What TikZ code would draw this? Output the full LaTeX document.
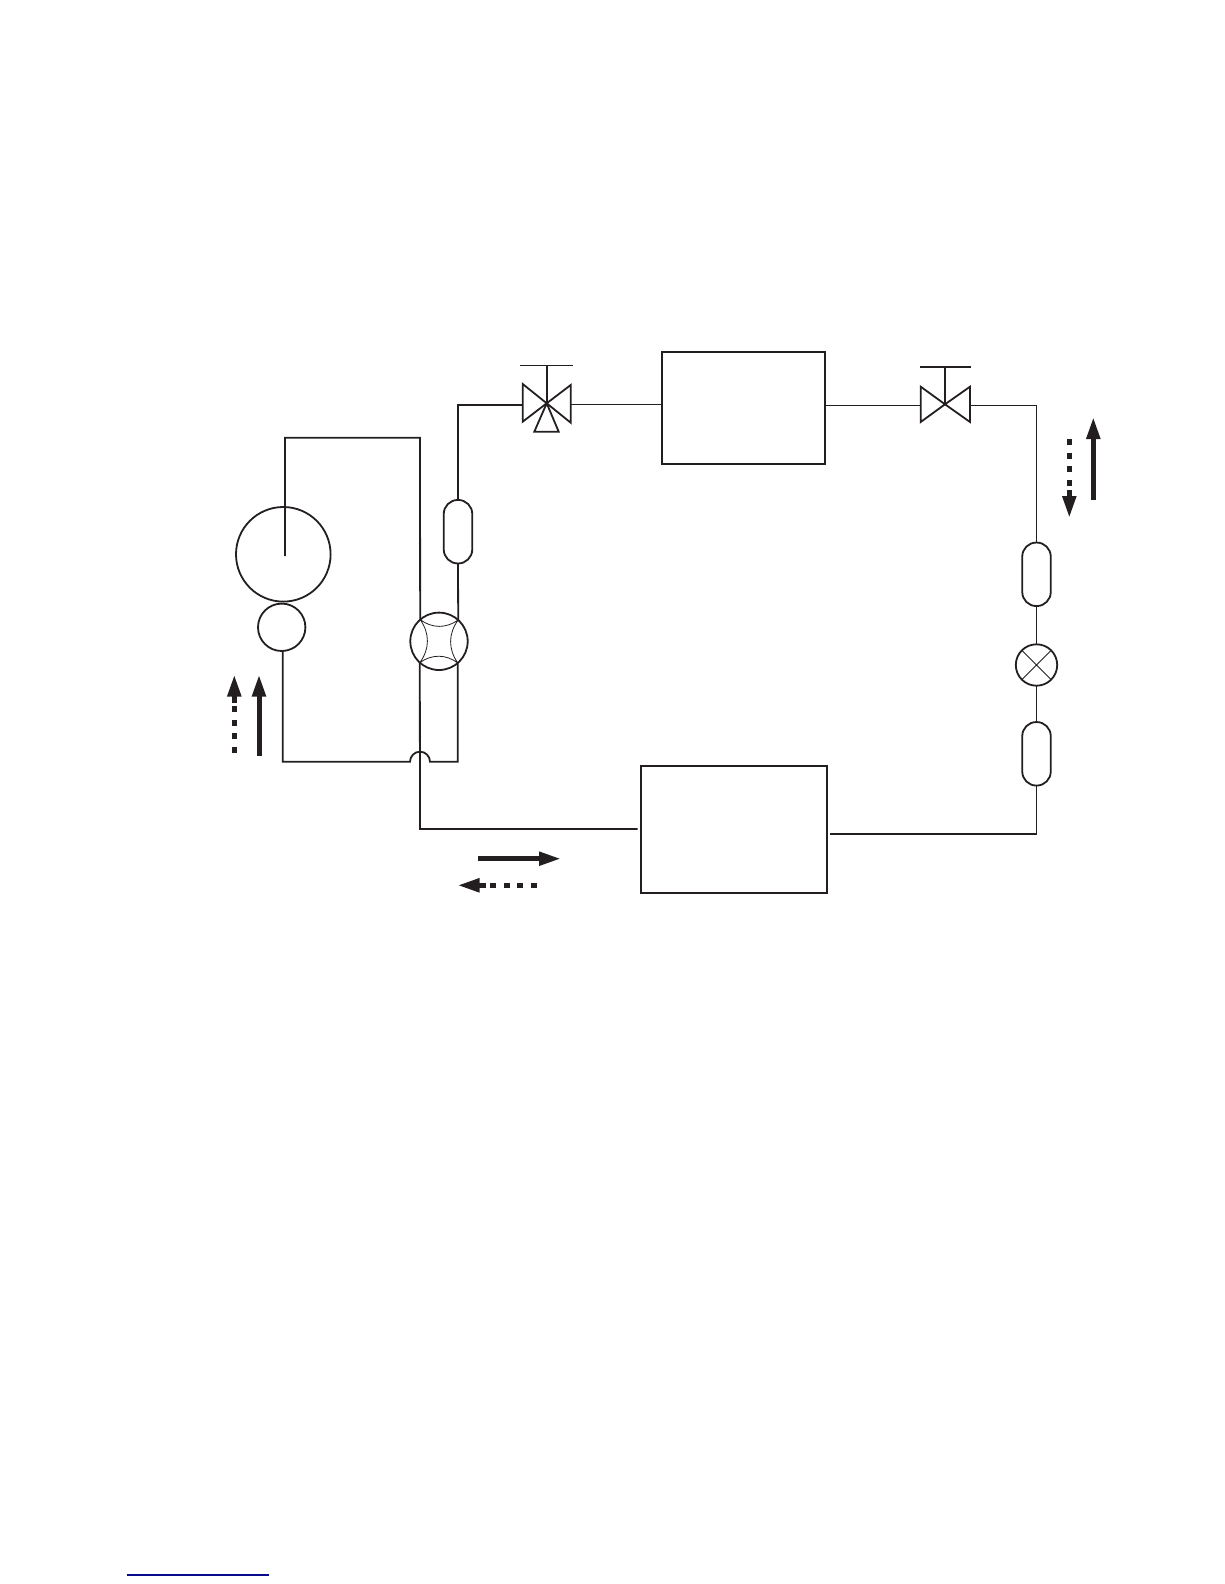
\documentclass[tikz,border=0pt]{standalone}
\usetikzlibrary{arrows.meta,calc}
\definecolor{ink}{HTML}{231F20}
\definecolor{rulecol}{HTML}{0A0A8C}
\tikzset{
  pipe/.style={draw=ink,line width=1.8pt,line join=miter},
  thinpipe/.style={draw=ink,line width=1pt},
  fine/.style={draw=ink,line width=0.8pt},
  equip/.style={draw=ink,line width=1.8pt,inner sep=0pt,outer sep=0pt,fill=none},
  round/.style={equip,circle,minimum size=#1},
  boxunit/.style={equip,rectangle},
  capsule/.style={equip,rectangle,rounded corners=14pt,minimum width=28.5pt,minimum height=63.5pt},
  flow/.style={draw=ink,line width=5pt,-{Triangle[length=22pt,width=13pt,fill=ink]}},
  flowdots/.style={draw=ink,line width=5pt,dash pattern=on 6pt off 7.6pt},
}
\begin{document}
\begin{tikzpicture}[x=1pt,y=-1pt]
\useasboundingbox (0,0) rectangle (1224,1584);
% equipment
\node[round=94.6pt] (drum) at (283.3,554.3) {};
\node[round=47.4pt] (comp) at (281.7,627.3) {};
\node[round=57.4pt] (fw) at (439,641.3) {};
\node[capsule] (capa) at (458,531.7) {};
\node[capsule] (capb) at (1036.5,574.3) {};
\node[capsule] (capc) at (1036.5,753.8) {};
\node[round=41.4pt] (xv) at (1036.5,665) {};
\node[boxunit,minimum width=163.3pt,minimum height=111.7pt] (indoor) at (743.4,407.8) {};
\node[boxunit,minimum width=186.7pt,minimum height=127pt] (outdoor) at (734,829.2) {};
% four way valve interior
\draw[fine] (fw.48.5) to[bend left=36] (fw.131.5)
            (fw.131.5) to[bend left=36] (fw.228.5)
            (fw.228.5) to[bend left=36] (fw.311.5)
            (fw.311.5) to[bend left=36] (fw.48.5);
% expansion valve cross
\draw[fine] (xv.45) -- (xv.225) (xv.135) -- (xv.315);
% three-way valve
\coordinate (va) at (546.7,403.3);
\coordinate (vaL) at (522.7,405);
\coordinate (vaR) at (570.7,404.3);
\coordinate (vaTop) at (546.7,365.3);
\draw[pipe] (va) -- (522.7,384) -- (522.7,421.7) -- cycle;
\draw[pipe] (va) -- (570.7,385) -- (570.7,422.7) -- cycle;
\draw[pipe] (va) -- (558.7,431.7) -- (534.3,431.7) -- cycle;
\draw[pipe] (va) -- (vaTop);
\draw[thinpipe] (520,365.3) -- (572.7,365.3);
% two-way valve
\coordinate (vb) at (945,404.3);
\coordinate (vbL) at (920.7,405.5);
\coordinate (vbR) at (970,405.3);
\coordinate (vbTop) at (945,366.7);
\draw[pipe] (vb) -- (920.7,386.7) -- (920.7,422) -- cycle;
\draw[pipe] (vb) -- (970,386.7) -- (970,422) -- cycle;
\draw[pipe] (vb) -- (vbTop);
\draw[pipe] (920,366.7) -- (970.7,366.7);
% piping
\coordinate (dis) at (285,556);
\coordinate (topL) at (285,437.7);
\coordinate (topR) at (420,437.7);
\coordinate (lowL) at (420,829);
\coordinate (hopL) at (410,761.7);
\coordinate (hopR) at (430,761.7);
\coordinate (sucL) at (282.7,761.7);
\coordinate (sucT) at (282.7,651);
\coordinate (outR) at (1036.5,834);
\draw[pipe] (dis) -- (topL) -- (topR) -- (fw.131.5);
\draw[pipe] (fw.228.5) -- (lowL) -- ($(outdoor.west |- lowL)+(-3,0)$);
\draw[pipe] (sucT) -- (sucL) -- (hopL) arc[start angle=180,end angle=0,radius=10pt] -- (hopR) -| (fw.311.5);
\draw[pipe] (fw.48.5) -- (capa.south);
\draw[pipe] (capa.north) |- (vaL);
\draw[thinpipe] (vaR) -- (vaR -| indoor.west);
\draw[pipe] (indoor.east |- vbL) -- (vbL);
\draw[pipe,line width=1.4pt] (vbR) -| (capb.north);
\draw[pipe] (capb.south) -- (xv.north);
\draw[pipe] (xv.south) -- (capc.north);
\draw[pipe] (capc.south) -- (outR) -- ($(outdoor.east |- outR)+(3,0)$);
% flow arrows
\coordinate (a1s) at (259,756);   \coordinate (a1e) at (259,674.5);
\draw[flow] (a1s) -- (a1e);
\coordinate (a2s) at (234.3,703); \coordinate (a2e) at (234.3,674.5);
\draw[flow] (a2s) -- (a2e);
\coordinate (a2d) at (234.3,753);
\draw[flowdots] (a2d) -- (234.3,706);
\coordinate (a3s) at (1093.3,500); \coordinate (a3e) at (1093.3,417);
\draw[flow] (a3s) -- (a3e);
\coordinate (a4s) at (1069.3,490); \coordinate (a4e) at (1069.3,518);
\draw[flow] (a4s) -- (a4e);
\coordinate (a4d) at (1069.3,439);
\draw[flowdots] (a4d) -- (1069.3,488);
\coordinate (a5s) at (478.3,858.7); \coordinate (a5e) at (561,858.7);
\draw[flow] (a5s) -- (a5e);
\coordinate (a6s) at (486,885.3); \coordinate (a6e) at (457.5,885.3);
\draw[flow] (a6s) -- (a6e);
\coordinate (a6d) at (536.7,885.3);
\draw[flowdots] (a6d) -- (489,885.3);
% footnote rule
\coordinate (fa) at (126.7,1575); \coordinate (fb) at (269,1575);
\draw[rulecol,line width=1.2pt] (fa) -- (fb);
\end{tikzpicture}
\end{document}
